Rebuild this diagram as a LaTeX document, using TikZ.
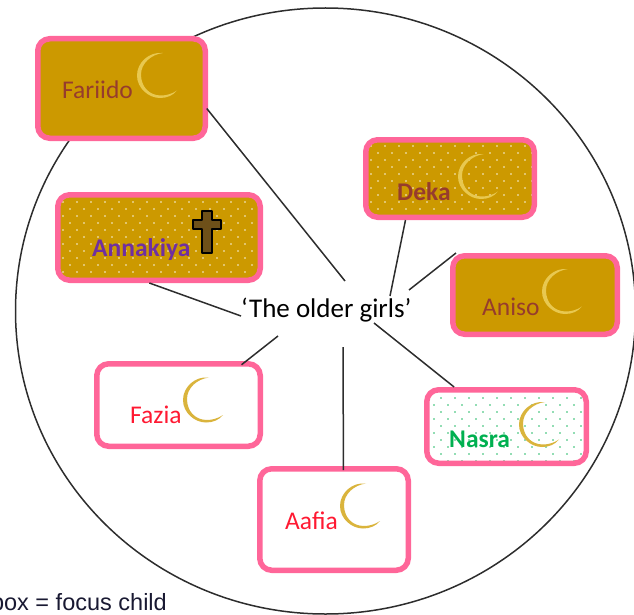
\documentclass[tikz,border=0pt]{standalone}
\usepackage{fontspec}
\setmainfont{Carlito}
\newfontfamily\keyfont{Liberation Sans}
\usepackage{xcolor}
\usetikzlibrary{patterns.meta}
\definecolor{boxpink}{RGB}{255, 102, 153}
\definecolor{goldfill}{RGB}{204, 153, 0}
\definecolor{nametan}{RGB}{150, 60, 45}
\definecolor{namepurple}{RGB}{112, 48, 160}
\definecolor{namegreen}{RGB}{0, 176, 80}
\definecolor{namered}{RGB}{255, 25, 50}
\definecolor{moonpale}{RGB}{232, 200, 80}
\definecolor{moongold}{RGB}{218, 180, 60}
\definecolor{crosswood}{RGB}{110, 80, 25}
\definecolor{lineink}{RGB}{45, 45, 45}
\definecolor{keyink}{RGB}{25, 25, 50}
\tikzset{
    girlbox/.style={draw=boxpink, line width=5.5pt, rounded corners=12pt, inner sep=0pt},
    plainbox/.style={girlbox, fill=white},
    goldbox/.style={girlbox, fill=goldfill},
    golddots/.style={girlbox, preaction={fill=goldfill}, preaction={pattern={Dots[distance=9.9pt, angle=45, radius=1pt]}, pattern color=white}},
    greendots/.style={girlbox, preaction={fill=white}, preaction={pattern={Dots[distance=9.9pt, angle=45, radius=1pt]}, pattern color=namegreen}},
    girlname/.style={anchor=base west, inner sep=0pt, font=\fontsize{25.5}{25.5}\selectfont},
    boldname/.style={girlname, font=\fontsize{25.5}{25.5}\selectfont\bfseries},
    spoke/.style={draw=lineink, line width=1.5pt},
    moon/.pic={
        \path[pic actions] (4,-22.5) .. controls (-10,-24) and (-22,-13) .. (-22,0)
            .. controls (-22,13) and (-10,22.5) .. (1,22.5)
            .. controls (8,22.5) and (14,20) .. (18,15)
            .. controls (13,18.5) and (7,20) .. (2,20)
            .. controls (-10,20) and (-18,11) .. (-18,-1)
            .. controls (-18,-12) and (-8,-21) .. (4,-22.5) -- cycle;
    },
    woodcross/.pic={
        \draw[fill=crosswood, draw=black, line width=2pt, line join=round]
            (-5,-21) -- (5,-21) -- (5,-12) -- (14,-12) -- (14,-3) -- (5,-3)
            -- (5,21) -- (-5,21) -- (-5,-3) -- (-14,-3) -- (-14,-12) -- (-5,-12) -- cycle;
    }
}
\begin{document}
\begin{tikzpicture}[x=1pt, y=-1pt]
    \useasboundingbox (0,0) rectangle (634,615);

    % Outer circle
    \draw[draw=lineink, line width=1.5pt] (325.5,311) ellipse [x radius=310, y radius=303];

    % Boxes
    \node[goldbox, minimum width=167.5pt, minimum height=99.5pt] (fariido) at (121.5,88.5) {};
    \node[golddots, minimum width=202.5pt, minimum height=85.5pt] (annakiya) at (159,237.5) {};
    \node[golddots, minimum width=168.5pt, minimum height=77.5pt] (deka) at (450,178.5) {};
    \node[goldbox, minimum width=164.5pt, minimum height=78.5pt] (aniso) at (535,295) {};
    \node[greendots, minimum width=159.5pt, minimum height=73.5pt] (nasra) at (506.5,426.5) {};
    \node[plainbox, minimum width=163.5pt, minimum height=82.5pt] (fazia) at (178.5,405) {};
    \node[plainbox, minimum width=148.5pt, minimum height=101.5pt] (aafia) at (334,519.5) {};

    % Names
    \node[girlname, text=nametan] (fariidoname) at (62,99) {Fariido};
    \node[boldname, text=namepurple] (annakiyaname) at (92,256) {Annakiya};
    \node[boldname, text=nametan] (dekaname) at (397,200) {Deka};
    \node[girlname, text=nametan] (anisoname) at (482,315) {Aniso};
    \node[boldname, text=namegreen] (nasraname) at (449,447) {Nasra};
    \node[girlname, text=namered] (fazianame) at (130,423) {Fazia};
    \node[girlname, text=namered] (aafianame) at (285,529) {Aafia};

    % Moons and the cross
    \pic[fill=moonpale] at (159,75.5) {moon};
    \pic[fill=moonpale] at (480,176.5) {moon};
    \pic[fill=moonpale] at (564,291.5) {moon};
    \pic[fill=moongold] at (541,424.5) {moon};
    \pic[fill=moongold] at (205,400) {moon};
    \pic[fill=moongold] at (362,506) {moon};
    \pic at (207,232) {woodcross};

    % Centre label
    \node[girlname, font=\fontsize{27}{27}\selectfont] (hub) at (241,317) {‘The older girls’};
    \coordinate (hubfariido) at (345,281);
    \coordinate (hubannakiya) at (241,316);
    \coordinate (hubdeka) at (390,296);
    \coordinate (hubaniso) at (409,290);
    \coordinate (hubnasra) at (374,323);
    \coordinate (hubaafia) at (343,347);
    \coordinate (hubfazia) at (278,336);

    % Connections
    \draw[spoke, shorten >=-2pt] (hubfariido) -- (fariido.-14);
    \draw[spoke] (hubannakiya) -- (annakiya.258);
    \draw[spoke] (hubdeka) -- (deka.-137);
    \draw[spoke] (hubaniso) -- (aniso.152);
    \draw[spoke] (hubnasra) -- (nasra.143);
    \draw[spoke, shorten >=-6pt] (hubfazia) -- (fazia.33);
    \draw[spoke, shorten >=-4pt] (hubaafia) -- (aafia.80);

    % Key
    \node[anchor=base east, inner sep=0pt, text=keyink, font=\fontsize{23.5}{23.5}\selectfont\keyfont] (key) at (167,610) {box = focus child};
\end{tikzpicture}
\end{document}
